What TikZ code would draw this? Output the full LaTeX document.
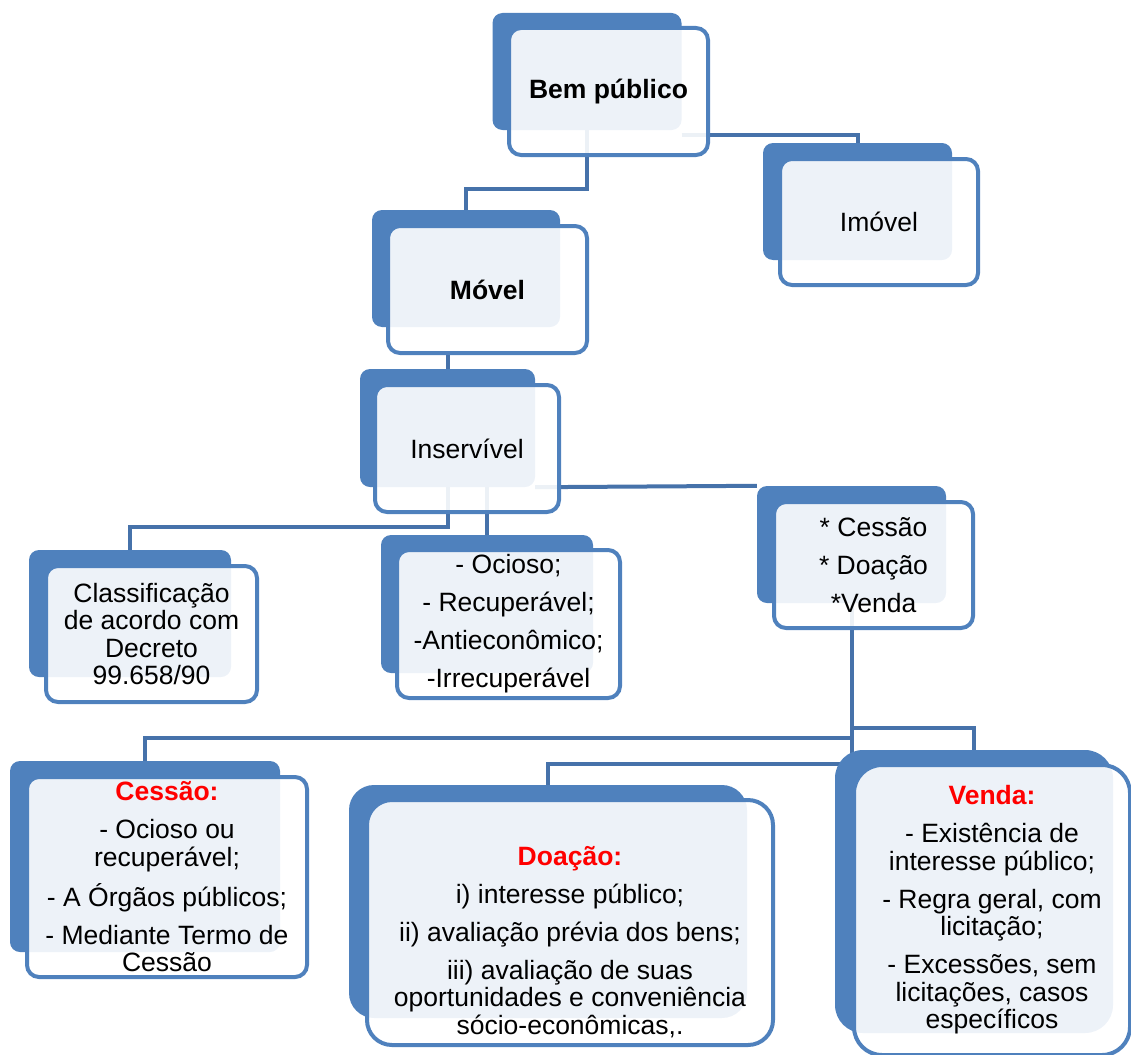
\documentclass[tikz,border=0pt]{standalone}
\usepackage{fontspec}
\setmainfont{Liberation Sans}
\usepackage{xcolor}
\usepackage{tikz}
\usetikzlibrary{calc, backgrounds}
\definecolor{boxblue}{HTML}{4F81BD}
\definecolor{lineblue}{HTML}{4672AA}
\definecolor{titlered}{HTML}{FF0000}

\begin{document}
\begin{tikzpicture}[
    x=1pt, y=-1pt,
    font=\fontsize{26.5}{27.5}\selectfont,
    backbox/.style={fill=boxblue, rounded corners=10pt, inner sep=0pt},
    frontbox/.style={draw=boxblue, line width=4pt, fill=white, fill opacity=0.9, text opacity=1, rounded corners=12pt, inner sep=0pt, align=center},
    conn/.style={draw=lineblue, line width=4pt}
]
    \useasboundingbox (0,0) rectangle (1131,1054);

    % 1. Top level
    \node[backbox, minimum width=189pt, minimum height=117pt] (bemb) at (587,71.5) {};
    \node[frontbox, minimum width=199pt, minimum height=127pt] (bem) at (608.5,91.5) {\bfseries Bem público};

    \node[backbox, minimum width=189pt, minimum height=117pt] (imovelb) at (857.5,201.5) {};
    \node[frontbox, minimum width=198pt, minimum height=126pt] (imovel) at (879,222) {Imóvel};

    \node[backbox, minimum width=188pt, minimum height=117pt] (movelb) at (466,268.5) {};
    \node[frontbox, minimum width=199pt, minimum height=127pt] (movel) at (487.5,289.5) {\bfseries Móvel};

    % 2. Inservível and its children
    \node[backbox, minimum width=175pt, minimum height=118pt] (inservb) at (447.5,428) {};
    \node[frontbox, minimum width=184pt, minimum height=127pt] (inserv) at (467,448.5) {Inservível};

    \node[backbox, minimum width=202pt, minimum height=127pt] (classifb) at (130,613.5) {};
    \node[frontbox, minimum width=211pt, minimum height=136pt] (classif) at (151.5,634) {Classificação\\de acordo com\\Decreto\\99.658/90};

    \node[backbox, minimum width=212pt, minimum height=138pt] (ociosob) at (487,604) {};
    \node[frontbox, minimum width=223pt, minimum height=148pt] (ocioso) at (508.5,624) {- Ocioso;\\[10.5pt]- Recuperável;\\[10.5pt]-Antieconômico;\\[10.5pt]-Irrecuperável};

    \node[backbox, minimum width=189pt, minimum height=117pt] (listab) at (851.5,544.5) {};
    \node[frontbox, minimum width=199pt, minimum height=126pt] (lista) at (873.5,565) {* Cessão\\[10.5pt]* Doação\\[10.5pt]*Venda};

    % 3. Bottom row
    \node[backbox, minimum width=270pt, minimum height=191pt] (cessaob) at (145,856.5) {};
    \node[frontbox, minimum width=280pt, minimum height=200pt] (cessao) at (167,877) {{\color{titlered}\bfseries Cessão:}\\[10.5pt]- Ocioso ou\\recuperável;\\[10.5pt]- A Órgãos públicos;\\[10.5pt]- Mediante Termo de\\Cessão};

    \node[backbox, rounded corners=25pt, minimum width=398pt, minimum height=233pt] (doacaob) at (548,901.5) {};
    \node[frontbox, rounded corners=25pt, minimum width=406pt, minimum height=245pt] (doacao) at (570,922.5) {};
    \node[align=center] (doacaotxt) at (570,942) {{\color{titlered}\bfseries Doação:}\\[10.5pt]i) interesse público;\\[10.5pt]ii) avaliação prévia dos bens;\\[10.5pt]iii) avaliação de suas\\oportunidades e conveniência\\sócio-econômicas,.};

    \node[backbox, rounded corners=28pt, minimum width=278pt, minimum height=283pt] (vendab) at (974,891.5) {};
    \node[frontbox, rounded corners=28pt, minimum width=276pt, minimum height=290pt] (venda) at (992,910) {{\color{titlered}\bfseries Venda:}\\[10.5pt]- Existência de\\interesse público;\\[10.5pt]- Regra geral, com\\licitação;\\[10.5pt]- Excessões, sem\\licitações, casos\\específicos};

    % 4. Connectors (behind the boxes)
    \begin{scope}[on background layer]
        \draw[conn] (bemb.south) |- ($(movelb.north)+(0,-21)$) -- (movelb.north);
        \draw[conn] ($(bemb.south east)+(0,5)$) -| (imovelb.north);
        \draw[conn] (movel.south -| inservb.north) -- (inservb.north);
        \draw[conn] (inservb.south) |- ($(classifb.north)+(0,-23)$) -- (classifb.north);
        \draw[conn] (ociosob.north) -- (ociosob.north |- inservb.south);
        \draw[conn] (inservb.south east) -- (listab.north west);
        \draw[conn] (listab.south) |- ($(cessaob.north)+(0,-23)$) -- (cessaob.north);
        \draw[conn] (listab.south) |- ($(vendab.north)+(0,-22)$) -- (vendab.north);
        \draw[conn] (listab.south) |- ($(doacaob.north)+(0,-21)$) -- (doacaob.north);
    \end{scope}
\end{tikzpicture}
\end{document}
